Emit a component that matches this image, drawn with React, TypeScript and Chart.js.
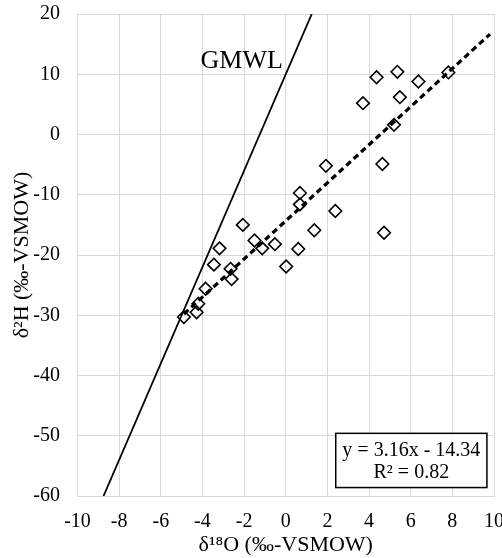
import { useEffect, useRef } from "react";
import { Chart, registerables } from "chart.js";

Chart.register(...registerables);

// Sample points: δ18O (x) and δ2H (y)
const xValues = [-4.89, -4.28, -4.2, -3.85, -3.45, -3.18, -2.65, -2.6, -2.06, -1.5, -1.13, -0.52, 0.02, 0.6, 0.68, 0.68, 1.37, 1.93, 2.38, 3.71, 4.36, 4.64, 4.72, 5.2, 5.36, 5.48, 6.37, 7.81];
const yValues = [-30.3, -29.5, -28.1, -25.6, -21.6, -18.9, -22.3, -24.0, -15.0, -17.6, -18.9, -18.2, -21.9, -19.0, -9.7, -11.6, -15.9, -5.2, -12.7, 5.2, 9.5, -4.9, -16.3, 1.6, 10.4, 6.2, 8.8, 10.3];

// Global Meteoric Water Line endpoints
const gmwlX = [-8.75, 1.25];
const gmwlY = [-60, 20];

// Linear trendline endpoints
const trendX = [-4.89, 9.81];
const trendY = [-29.79, 16.66];

const xMin = -10;
const xMax = 10;
const xStep = 2;
const yMin = -60;
const yMax = 20;
const yStep = 10;

const xTitle = "δ¹⁸O (‰-VSMOW)";
const yTitle = "δ²H (‰-VSMOW)";
const gmwlLabel = "GMWL";
const gmwlLabelPos = [-0.14, 11.05];
const equationLines = ["y = 3.16x - 14.34", "R² = 0.82"];
const equationLineY = [-52.5, -56.1];
const boxX = [2.4, 9.66];
const boxY = [-49.6, -58.6];

const FONT = '"Liberation Serif", "Times New Roman", serif';

const annotationPlugin = {
  id: "annotations",
  afterDatasetsDraw(chart: any) {
    const { ctx } = chart;
    const xs = chart.scales.x;
    const ys = chart.scales.y;
    ctx.save();
    ctx.fillStyle = "#000";
    ctx.font = `26px ${FONT}`;
    ctx.textAlign = "right";
    ctx.textBaseline = "alphabetic";
    ctx.fillText(gmwlLabel, xs.getPixelForValue(gmwlLabelPos[0]), ys.getPixelForValue(gmwlLabelPos[1]));

    const l = xs.getPixelForValue(boxX[0]);
    const r = xs.getPixelForValue(boxX[1]);
    const t = ys.getPixelForValue(boxY[0]);
    const b = ys.getPixelForValue(boxY[1]);
    ctx.fillStyle = "#fff";
    ctx.fillRect(l, t, r - l, b - t);
    ctx.strokeStyle = "#000";
    ctx.lineWidth = 1.5;
    ctx.strokeRect(l, t, r - l, b - t);
    ctx.fillStyle = "#000";
    ctx.font = `20px ${FONT}`;
    ctx.textAlign = "center";
    ctx.textBaseline = "middle";
    const cx = (l + r) / 2;
    equationLines.forEach((line, i) => {
      ctx.fillText(line, cx, ys.getPixelForValue(equationLineY[i]));
    });
    ctx.restore();
  },
};

export default function App() {
  const canvasRef = useRef<HTMLCanvasElement | null>(null);

  useEffect(() => {
    document.body.style.margin = "0";
    const canvas = canvasRef.current;
    if (!canvas) return;
    const chart = new Chart(canvas, {
      type: "scatter",
      data: {
        datasets: [
          {
            label: "Trend",
            data: trendX.map((x, i) => ({ x, y: trendY[i] })),
            showLine: true,
            borderColor: "#000",
            borderWidth: 3.2,
            borderDash: [6, 4],
            pointRadius: 0,
            fill: false,
          },
          {
            label: "Samples",
            data: xValues.map((x, i) => ({ x, y: yValues[i] })),
            pointStyle: "rectRot",
            pointRadius: 6.3,
            pointBorderWidth: 1.6,
            borderColor: "#000",
            backgroundColor: "rgba(0,0,0,0)",
            showLine: false,
          },
          {
            label: "GMWL",
            data: gmwlX.map((x, i) => ({ x, y: gmwlY[i] })),
            showLine: true,
            borderColor: "#000",
            borderWidth: 1.8,
            pointRadius: 0,
            fill: false,
          },
        ],
      },
      options: {
        animation: false,
        responsive: false,
        devicePixelRatio: 1,
        layout: { padding: { top: 14, right: 8, left: 0, bottom: 0 } },
        plugins: {
          legend: { display: false },
          tooltip: { enabled: false },
        },
        scales: {
          x: {
            type: "linear",
            min: xMin,
            max: xMax,
            afterFit: (scale: any) => {
              scale.height = 62;
              scale.paddingLeft = 0;
              scale.paddingRight = 0;
            },
            ticks: {
              stepSize: xStep,
              color: "#000",
              padding: 14,
              font: { family: FONT, size: 20 },
            },
            grid: { color: "#d9d9d9", lineWidth: 1, drawTicks: false },
            border: { color: "#d9d9d9" },
            title: {
              display: true,
              text: xTitle,
              color: "#000",
              font: { family: FONT, size: 22 },
              padding: { top: 0, bottom: 0 },
            },
          },
          y: {
            type: "linear",
            min: yMin,
            max: yMax,
            afterFit: (scale: any) => {
              scale.width = 77.5;
              scale.paddingTop = 0;
              scale.paddingBottom = 0;
            },
            ticks: {
              stepSize: yStep,
              color: "#000",
              padding: 17.5,
              font: { family: FONT, size: 20 },
            },
            grid: { color: "#d9d9d9", lineWidth: 1, drawTicks: false },
            border: { color: "#d9d9d9" },
            title: {
              display: true,
              text: yTitle,
              color: "#000",
              font: { family: FONT, size: 22 },
              padding: { top: 9, bottom: 0 },
            },
          },
        },
      },
      plugins: [annotationPlugin],
    });
    return () => chart.destroy();
  }, []);

  return <canvas ref={canvasRef} width={502} height={558} style={{ display: "block" }} />;
}
